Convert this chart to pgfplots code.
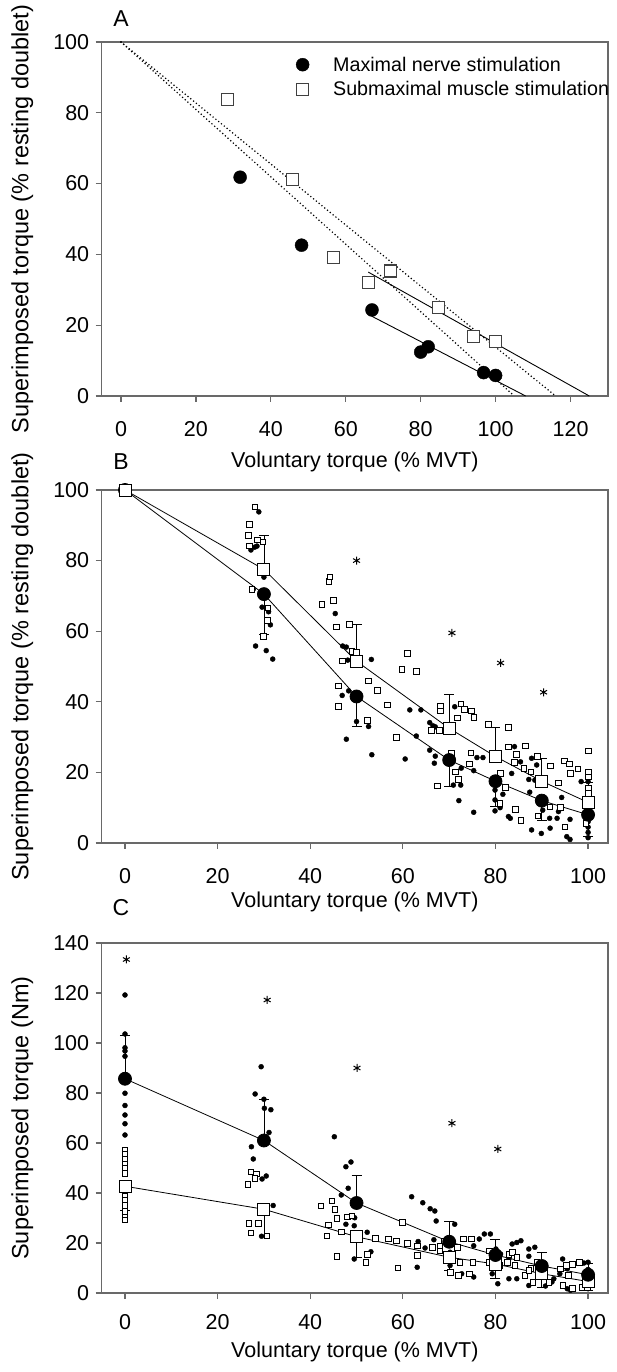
\documentclass[border=0pt]{standalone}
\usepackage{fontspec}
\setmainfont{Liberation Sans}
\usepackage{pgfplots}
\pgfplotsset{compat=1.18}

\definecolor{axgray}{RGB}{105,105,105}

\pgfplotsset{
  panel/.style={
    scale only axis, width=506.3pt,
    axis line style={axgray, line width=1.2pt},
    tick style={axgray, line width=1.2pt},
    major tick length=6pt,
    tick align=outside, xtick pos=bottom, ytick pos=left,
    tick label style={font=\fontsize{21.5}{24}\selectfont},
    xticklabel style={yshift=-16pt},
    yticklabel style={xshift=-3pt},
    /pgf/number format/assume math mode=true,
    xlabel style={font=\fontsize{21.5}{24}\selectfont},
    ylabel style={font=\fontsize{23.5}{26}\selectfont, at={(axis description cs:-0.157,0.5)}, anchor=center},
    clip=false,
  },
  dot/.style={only marks, mark=*, mark size=2.5pt, mark options={fill=black, draw=black}},
  box/.style={only marks, mark=square*, mark size=2.8pt, mark options={fill=white, draw=black, line width=0.6pt}},
  bigdot/.style={black, line width=0.8pt, mark=*, mark size=6.5pt, mark options={fill=black, draw=black}},
  bigbox/.style={black, line width=0.8pt, mark=square*, mark size=6pt, mark options={fill=white, draw=black, line width=0.9pt}},
  star/.style={only marks, mark=asterisk, mark size=4pt, mark options={line width=1pt, black}},
  ebar/.style={error bars/.cd, y dir=#1, y explicit,
    error bar style={line width=0.8pt, black},
    error mark options={rotate=90, mark size=5pt, line width=0.8pt, black}},
  dots/.style={black, line width=1.7pt, line cap=round, dash pattern=on 0pt off 3.6pt},
}

\begin{document}
\begin{tikzpicture}
\path[use as bounding box] (0,0) rectangle (616pt,1372pt);

% ---------------- A ----------------
\begin{axis}[panel, at={(101.7pt,976pt)}, anchor=south west, height=354pt,
  xmin=-5.15, xmax=130, ymin=0, ymax=100,
  xtick={0,20,...,120}, ytick={0,20,...,100},
  xlabel={Voluntary torque (\% MVT)},
  xlabel style={at={(axis description cs:0.5,-0.186)}, anchor=center},
  ylabel={Superimposed torque (\% resting doublet)},
  legend style={draw=none, fill=none, font=\fontsize{19.7}{22}\selectfont,
    at={(axis cs:45.9,97.0)}, anchor=north west, row sep=5pt,
    nodes={inner xsep=3pt},
    /tikz/every odd column/.append style={column sep=21pt}},
  legend cell align=left,
  legend image code/.code={\draw[#1] plot coordinates {(6pt,0pt)};},
]
\addplot[only marks, mark=*, mark size=6.5pt, mark options={fill=black, draw=black}]
  coordinates {(31.8,61.8) (48.2,42.6) (67,24.3) (80,12.4) (82,13.9) (96.8,6.6) (100,5.8)};
\addlegendentry{Maximal nerve stimulation}
\addplot[only marks, mark=square*, mark size=6pt, mark options={fill=white, draw=black!75, line width=1.1pt}]
  coordinates {(28.5,83.8) (45.8,61.1) (56.8,39) (66,32) (72,35.3) (84.8,25) (94.2,16.9) (100,15.4)};
\addlegendentry{Submaximal muscle stimulation}
\addplot[dots, forget plot] coordinates {(0,100) (105,0)};
\addplot[dots, forget plot] coordinates {(0,100) (116,0)};
\addplot[black, line width=0.9pt, forget plot] coordinates {(67,22.5) (108,0)};
\addplot[black, line width=0.9pt, forget plot] coordinates {(66,35) (125,0)};
\node[font=\fontsize{23}{26}\selectfont] at (axis description cs:0.038,1.065) {A};
\end{axis}

% ---------------- B ----------------
\begin{axis}[panel, at={(101.7pt,529pt)}, anchor=south west, height=353pt,
  xmin=-5.03, xmax=104.3, ymin=0, ymax=100,
  xtick={0,20,...,100}, ytick={0,20,...,100},
  xlabel={Voluntary torque (\% MVT)},
  xlabel style={at={(axis description cs:0.5,-0.167)}, anchor=center},
  ylabel={Superimposed torque (\% resting doublet)},
]
\addplot[dot] coordinates {
 (28.9,93.8) (27.2,83.0) (28.0,83.8) (28.5,84.1) (30.0,75.3) (27.7,71.9) (29.6,66.8)
 (31.0,65.5) (31.4,61.8) (28.2,55.8) (30.5,54.5) (31.9,52.1)
 (45.4,65.0) (47.0,55.8) (47.8,55.5) (48.1,51.8) (53.2,52.0) (46.9,41.8) (48.3,43.1)
 (50.0,34.4) (52.6,33.0) (47.8,29.4) (53.3,25.0)
 (61.5,37.7) (63.9,37.7) (65.8,34.1) (66.5,33.2) (67.0,32.9) (62.9,30.3) (65.8,26.3)
 (67.0,24.6) (66.8,22.6) (60.5,23.8) (71.2,38.6) (70.9,16.4) (72.5,16.4) (72.6,21.2)
 (75.3,20.5) (72.1,12.0) (75.3,8.7) (76.0,24.2) (77.3,24.2) (79.9,15.0) (79.9,12.2)
 (79.9,9.1) (81.0,10.0) (81.6,13.8) (83.5,19.7) (84.1,27.3) (85.4,23.0) (86.2,20.9)
 (87.8,24.0) (88.9,22.1) (87.2,18.0) (88.5,17.8) (87.4,14.4) (82.8,7.5) (83.2,7.0)
 (87.8,3.7) (89.9,2.7) (91.8,4.2) (90.2,9.3) (91.7,7.0) (93.3,7.0) (93.6,8.9)
 (94.3,12.9) (95.4,1.8) (96.1,1.0) (96.1,6.7) (98.5,17.4) (100,17.4) (100,13)
 (100,10.5) (100,8) (100,6) (100,4.5) (100,3) (100,1.5)};
\addplot[box] coordinates {
 (28.0,95.2) (26.9,90.3) (26.6,87.2) (26.8,84.2) (28.6,85.9) (29.8,85.3) (27.4,71.9)
 (30.8,66.6) (30.7,63.0) (29.9,58.5)
 (44.0,74.2) (44.2,75.4) (42.5,67.6) (45.0,68.8) (45.6,61.2) (48.5,62.0) (46.9,51.6)
 (49.0,54.3) (50.0,54.1) (46.0,44.5) (46.0,38.7) (52.5,46.0) (54.5,43.3) (52.3,34.8)
 (56.6,39.1)
 (61.0,53.7) (59.8,49.2) (62.9,48.7) (58.6,29.9) (68.1,38.8) (68.1,37.5) (72.5,39.4)
 (73.3,37.9) (74.8,37.4) (75.3,35.6) (71.7,35.5) (66.1,32.0) (67.9,32.0) (70.4,25.4)
 (67.4,16.2) (71.3,20.2) (72.0,18.1) (74.3,22.4) (74.7,25.6) (78.4,33.7) (82.8,32.8)
 (82.8,27.3) (84.5,25.1) (86.5,27.5) (84.1,22.9) (86.1,21.2) (87.6,20.2) (89.0,24.5)
 (81.0,19.7) (82.1,15.8) (80.9,11.2) (84.3,9.5) (85.5,6.5) (89.1,7.7) (91.7,10.3)
 (94.0,10.1) (91.8,21.9) (93.6,17.1) (95.0,4.6) (94.8,23.3) (96.0,22.4) (97.8,21.0)
 (96.1,19.7) (100,26.1) (100,20.0) (100,18.8) (99.5,5.6) (100,15.5) (100,14.1)};
\addplot[bigdot, ebar=minus] coordinates {
 (0,100) +- (0,0) (30,70.5) +- (0,11.3) (50,41.5) +- (0,8.5) (70,23.5) +- (0,7.5)
 (80,17.5) +- (0,7) (90,12) +- (0,5.5) (100,8) +- (0,6)};
\addplot[bigbox, ebar=plus] coordinates {
 (0,100) +- (0,0) (30,77.5) +- (0,9.5) (50,51.5) +- (0,10.5) (70,32.5) +- (0,9.5)
 (80,24.5) +- (0,8.3) (90,17.5) +- (0,6.5) (100,11.5) +- (0,5.8)};
\addplot[star] coordinates {(50,80) (70.6,59.5) (81.1,51) (90.4,42.7)};
\node[font=\fontsize{23}{26}\selectfont] at (axis description cs:0.038,1.08) {B};
\end{axis}

% ---------------- C ----------------
\begin{axis}[panel, at={(101.7pt,79pt)}, anchor=south west, height=350pt,
  xmin=-5.03, xmax=104.3, ymin=0, ymax=140,
  xtick={0,20,...,100}, ytick={0,20,...,140},
  xticklabel style={yshift=4pt},
  xlabel={Voluntary torque (\% MVT)},
  xlabel style={at={(axis description cs:0.5,-0.169)}, anchor=center},
  ylabel={Superimposed torque (Nm)},
]
\addplot[dot] coordinates {
 (0,119.2) (0,103.6) (0,98.1) (0,96.8) (0,94.7) (0,79.9) (0,75) (0,71.2) (0,67.7) (0,63.2)
 (29.4,90.5) (28.1,79.6) (30.0,77.5) (30.1,73.9) (31.5,73.3) (31.1,64.2) (27.3,58.5)
 (27.7,53.6) (29.6,45.6) (30.5,46.8) (32.0,35.0) (29.5,22.7)
 (45.2,62.5) (47.7,50.5) (48.8,52.4) (48.2,41.9) (46.7,39.2) (49.6,30.1) (49.5,26.9)
 (47.7,27.5) (52.3,24.3) (53.1,16.5) (49.5,13.6)
 (61.9,38.5) (64.3,36.1) (65.9,33.7) (66.9,32.8) (67.2,28.8) (63.3,20.6) (64.8,18.0)
 (63.1,10.3) (66.7,21.3) (71.2,27.5) (70.2,16.3) (70.6,14.3) (70.2,11.0) (72.7,7.7)
 (75.3,18.9) (76.5,21.6) (77.6,23.6) (78.9,23.6) (75.3,6.4) (80.1,17.6) (81.1,15.6)
 (79.3,7.7) (80.5,3.7) (82.9,13.6) (83.6,19.6) (84.6,20.2) (85.5,20.9) (82.9,5.7)
 (84.6,5.7) (87.2,17.6) (87.2,14.7) (88.5,18.3) (87.2,3.0) (90.8,2.8) (92.2,4.4)
 (92.6,5.7) (94.5,13.6) (95.5,9.7) (93.9,7.7) (95.5,1.7) (96.2,1.1) (98.0,12.3)
 (99.1,12.0) (100,12.3) (100,9.4) (100,4.4) (100,1.7)};
\addplot[box] coordinates {
 (0,57.2) (0,55.4) (0,53.5) (0,51.7) (0,49.8) (0,47.9) (0,38.8) (0,37) (0,35) (0,32.7)
 (0,30.4) (0,29.2)
 (27.2,48.5) (28.3,47.6) (28.0,45.9) (26.5,43.5) (26.7,27.9) (28.8,27.9) (27.2,24.1)
 (30.6,22.8)
 (42.3,34.8) (44.7,36.9) (45.3,33.5) (45.7,29.9) (43.9,27.2) (48.0,30.5) (49.0,30.9)
 (46.7,24.5) (43.6,22.8) (45.7,14.8) (52.0,12.3) (52.3,15.6) (54.1,21.9)
 (56.9,21.6) (58.6,20.9) (61.0,19.8) (59.9,28.2) (63.1,18.9) (63.1,15.2) (58.9,10.1)
 (66.3,18.3) (68.0,18.9) (68.0,16.9) (68.9,20.9) (70.2,13.0) (70.2,8.3) (71.8,18.3)
 (73.1,21.6) (74.8,21.6) (72.3,12.3) (75.1,12.3) (72.0,7.0) (74.4,7.7) (78.7,16.9)
 (79.9,13.0) (80.8,11.0) (78.7,12.3) (82.9,15.6) (83.6,16.3) (84.2,11.0) (82.5,12.3)
 (84.6,14.3) (86.3,7.0) (87.6,9.9) (87.2,9.0) (88.9,12.3) (89.3,9.7) (88.1,4.4)
 (91.5,4.4) (94.0,9.7) (95.3,11.0) (96.6,11.6) (98.1,12.3) (94.5,3.0) (96.6,2.0)
 (98.7,2.4) (99.8,2.4) (95.7,7.0)};
\addplot[bigbox, ebar=minus] coordinates {
 (0,42.7) +- (0,9.6) (30,33.5) +- (0,10.6) (50,22.5) +- (0,8.2) (70,14.3) +- (0,5.3)
 (80,11.6) +- (0,5.6) (90,7.7) +- (0,5.5) (100,4.6) +- (0,3.5)};
\addplot[bigdot, ebar=plus] coordinates {
 (0,85.7) +- (0,17.5) (30,61) +- (0,16.4) (50,36) +- (0,11) (70,20.5) +- (0,8)
 (80,15.2) +- (0,6.4) (90,10.8) +- (0,5.5) (100,7.3) +- (0,4.7)};
\addplot[star] coordinates {(0.3,133.4) (30.7,117.2) (50.1,90) (70.6,67.9) (80.5,57.6)};
\node[font=\fontsize{23}{26}\selectfont] at (axis description cs:0.038,1.1) {C};
\end{axis}
\end{tikzpicture}
\end{document}
